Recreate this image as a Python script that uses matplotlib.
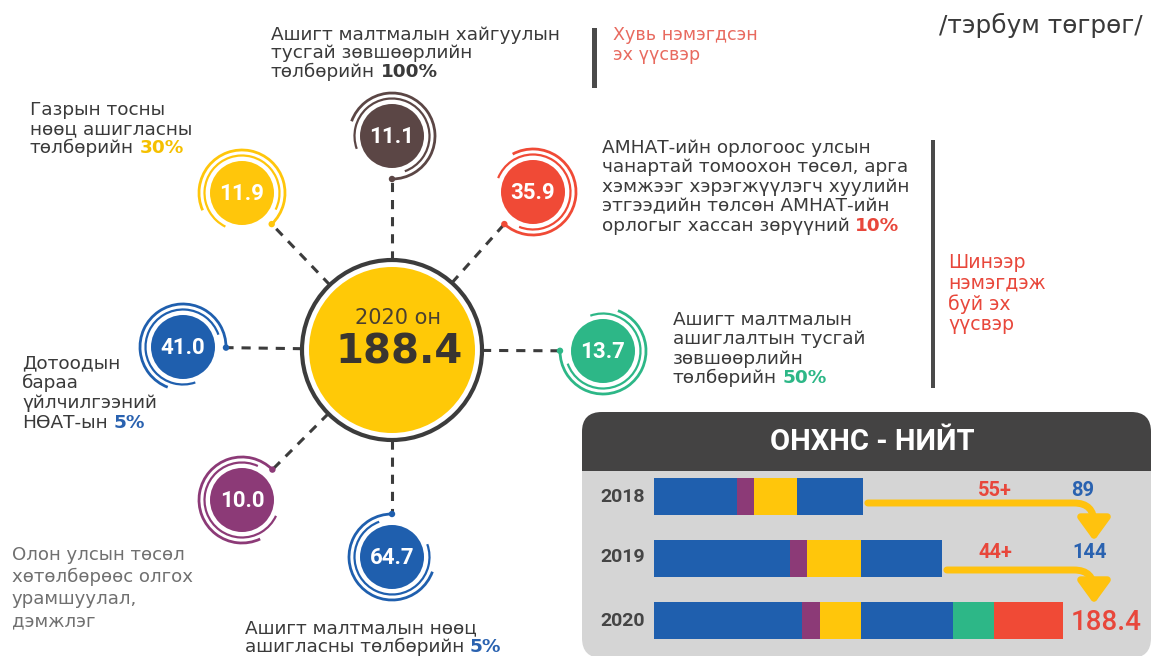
import math
import matplotlib
matplotlib.use("Agg")
import matplotlib.pyplot as plt
from matplotlib.patches import Circle, Arc, FancyBboxPatch, Rectangle, FancyArrowPatch

# ---------------- data ----------------
total_label = "2020 он"
total_value = 188.4

src_values = [11.1, 11.9, 35.9, 41.0, 13.7, 10.0, 64.7]
src_colors = ["#5B4645", "#FFC60B", "#F04A36", "#1F5FAE", "#2DB787", "#8C3A77", "#1F5FAE"]
src_lines = [
    ["Ашигт малтмалын хайгуулын", "тусгай зөвшөөрлийн", "төлбөрийн"],
    ["Газрын тосны", "нөөц ашигласны", "төлбөрийн"],
    ["АМНАТ-ийн орлогоос улсын", "чанартай томоохон төсөл, арга",
     "хэмжээг хэрэгжүүлэгч хуулийн", "этгээдийн төлсөн АМНАТ-ийн",
     "орлогыг хассан зөрүүний"],
    ["Дотоодын", "бараа", "үйлчилгээний", "НӨАТ-ын"],
    ["Ашигт малтмалын", "ашиглалтын тусгай", "зөвшөөрлийн", "төлбөрийн"],
    ["Олон улсын төсөл", "хөтөлбөрөөс олгох", "урамшуулал,", "дэмжлэг"],
    ["Ашигт малтмалын нөөц", "ашигласны төлбөрийн"],
]
src_pct = ["100%", "30%", "10%", "5%", "50%", None, "5%"]

years = ["2018", "2019", "2020"]
seg_colors = ["#1F5FAE", "#8C3A77", "#FFC60B", "#1F5FAE", "#2DB787", "#F04A36"]
seg_2018 = [38.2, 7.8, 19.8, 30.4, 0.0, 0.0]
seg_2019 = [62.6, 7.8, 24.9, 37.3, 0.0, 0.0]
seg_2020 = [68.2, 8.3, 18.9, 42.4, 18.9, 31.8]
year_totals = ["89", "144", "188.4"]
year_increments = ["55+", "44+"]

# ---------------- layout / style ----------------
W, H = 1151, 656
DARK = "#3C3C3C"
TXT = "#3A3A3A"
RED_T = "#E8473B"
FONT = "DejaVu Sans"

fig = plt.figure(figsize=(W / 100, H / 100), dpi=100)
fig.patch.set_facecolor("white")
ax = fig.add_axes([0, 0, 1, 1])
ax.set_xlim(0, W)
ax.set_ylim(H, 0)
ax.axis("off")

BX, BY = 392, 350
bub_pos = [(392, 136), (242, 193), (533, 192), (183, 347), (603, 351), (242, 500), (392, 557)]
lab_pos = [(271, 35, 18.5), (30, 110, 19), (602, 148, 19.5), (22, 363, 20),
           (673, 320, 19.3), (12, 555, 22), (245, 628, 18.5)]
pct_colors = [TXT, "#F5C000", RED_T, "#2A62B0", "#2DB787", None, "#2A62B0"]

# big circle
ax.add_patch(Circle((BX, BY), 83, fc="#FFC907", ec="none", zorder=3))
ax.add_patch(Circle((BX, BY), 90, fc="none", ec=DARK, lw=3, zorder=3))
ax.text(BX + 6, BY - 32, total_label, ha="center", va="center", fontsize=15,
        color="#4A4030", family=FONT, zorder=5)
ax.text(BX + 7, BY + 3, f"{total_value:.1f}", ha="center", va="center", fontsize=29,
        fontweight="bold", color="#3A3530", family=FONT, zorder=5)

R_FILL, R_IN, R_OUT = 32, 37.5, 43
for (cx, cy), v, col in zip(bub_pos, src_values, src_colors):
    ang = math.atan2(BY - cy, BX - cx)
    deg = math.degrees(ang)
    x0, y0 = BX - 90 * math.cos(ang), BY - 90 * math.sin(ang)
    x1, y1 = cx + R_OUT * math.cos(ang), cy + R_OUT * math.sin(ang)
    ax.plot([x0, x1], [y0, y1], ls=(0, (3, 2.6)), lw=2.2, color=DARK, zorder=1)
    ax.add_patch(Circle((cx, cy), R_FILL, fc=col, ec="none", zorder=3))
    ax.add_patch(Arc((cx, cy), 2 * R_IN, 2 * R_IN, theta1=deg - 290, theta2=deg - 20,
                     color=col, lw=1.6, zorder=3))
    ax.add_patch(Arc((cx, cy), 2 * R_OUT, 2 * R_OUT, theta1=deg - 250, theta2=deg,
                     color=col, lw=2.0, zorder=3))
    ax.add_patch(Circle((x1, y1), 3.2, fc=col, ec="none", zorder=4))
    ax.text(cx, cy + 1, f"{v:.1f}", ha="center", va="center", fontsize=16,
            fontweight="bold", color="white", family="Roboto", zorder=5)


def label(x, y, lh, lines, pct, pcol, color=TXT, size=13.3, weight="normal"):
    t = None
    for i, ln in enumerate(lines):
        t = ax.text(x, y + i * lh, ln, ha="left", va="center", fontsize=size,
                    color=color, family=FONT, fontweight=weight, zorder=5)
    if pct:
        ax.annotate(pct, xy=(1, 0.5), xycoords=t, xytext=(4, 0), textcoords="offset points",
                    ha="left", va="center", fontsize=size, color=pcol,
                    fontweight="bold", family=FONT, zorder=5)


for i, ((x, y, lh), lines, pct, pcol) in enumerate(zip(lab_pos, src_lines, src_pct, pct_colors)):
    if i == 5:
        label(x, y, lh, lines, pct, pcol, color="#707070", size=13.1)
    else:
        label(x, y, lh, lines, pct, pcol)

# side notes
ax.add_patch(Rectangle((592, 28), 5, 60, fc="#4A4A4A", ec="none"))
ax.text(613, 35, "Хувь нэмэгдсэн", ha="left", va="center", fontsize=12.6, color="#E86A5F", family=FONT)
ax.text(613, 55, "эх үүсвэр", ha="left", va="center", fontsize=12.6, color="#E86A5F", family=FONT)
ax.add_patch(Rectangle((931, 140), 4.5, 248, fc="#4A4A4A", ec="none"))
for i, s in enumerate(["Шинээр", "нэмэгдэж", "буй эх", "үүсвэр"]):
    ax.text(948, 262 + i * 21, s, ha="left", va="center", fontsize=13.6, color=RED_T, family=FONT)
ax.text(1143, 25, "/тэрбум төгрөг/", ha="right", va="center", fontsize=17.8, color=TXT, family=FONT)

# ---------------- panel ----------------
ax.add_patch(FancyBboxPatch((582, 412), 569, 246, boxstyle="round,pad=0,rounding_size=20",
                            fc="#D5D5D5", ec="none", zorder=1))
ax.add_patch(FancyBboxPatch((582, 412), 569, 80, boxstyle="round,pad=0,rounding_size=20",
                            fc="#444343", ec="none", zorder=1))
ax.add_patch(Rectangle((582, 471), 569, 30, fc="#D5D5D5", ec="none", zorder=1))
ax.text(872, 442, "ОНХНС - НИЙТ", ha="center", va="center", fontsize=21, fontweight="bold",
        color="white", family="Roboto", zorder=5)

BAR_L = 654
UPP = 188.4 / 409.0
ax_bar = fig.add_axes([BAR_L / W, (H - 650) / H, (W - BAR_L) / W, 185 / H])
ax_bar.set_xlim(0, (W - BAR_L) * UPP)
ax_bar.set_ylim(2.476, -0.508)
ax_bar.axis("off")
ax_bar.patch.set_alpha(0)
segs = [seg_2018, seg_2019, seg_2020]
for yi, row in enumerate(segs):
    left = 0.0
    for val, col in zip(row, seg_colors):
        if val > 0:
            ax_bar.barh(yi, val, left=left, height=0.6, color=col, edgecolor="none")
        left += val

bar_cy = [496.5, 557.5, 620.5]
for yi, yr in enumerate(years):
    ax.text(645, bar_cy[yi], yr, ha="right", va="center", fontsize=14, fontweight="bold",
            color="#454545", family="Roboto", zorder=5)

ends_px = [BAR_L + sum(r) / UPP for r in segs]
arrow_y = [503, 570]
arrow_tip = [(1094, 541), (1094, 604)]
for k in range(2):
    arr = FancyArrowPatch((ends_px[k] + 5, arrow_y[k]), arrow_tip[k],
                          connectionstyle="angle,angleA=0,angleB=90,rad=20",
                          arrowstyle="-|>,head_length=0.55,head_width=0.4", mutation_scale=24,
                          lw=5, color="#FFC20E", shrinkA=0, shrinkB=0, zorder=6)
    ax.add_patch(arr)

ax.text(995, 490, year_increments[0], ha="center", va="center", fontsize=14.5, fontweight="bold",
        color=RED_T, family="Roboto", zorder=7)
ax.text(1083, 490, year_totals[0], ha="center", va="center", fontsize=14.5, fontweight="bold",
        color="#2A62B0", family="Roboto", zorder=7)
ax.text(995, 553, year_increments[1], ha="center", va="center", fontsize=14.5, fontweight="bold",
        color=RED_T, family="Roboto", zorder=7)
ax.text(1090, 553, year_totals[1], ha="center", va="center", fontsize=14.5, fontweight="bold",
        color="#2A62B0", family="Roboto", zorder=7)
ax.text(1071, 622, year_totals[2], ha="left", va="center", fontsize=20, fontweight="medium",
        color=RED_T, family="Roboto", zorder=7)

fig.savefig("out.png", dpi=100)
